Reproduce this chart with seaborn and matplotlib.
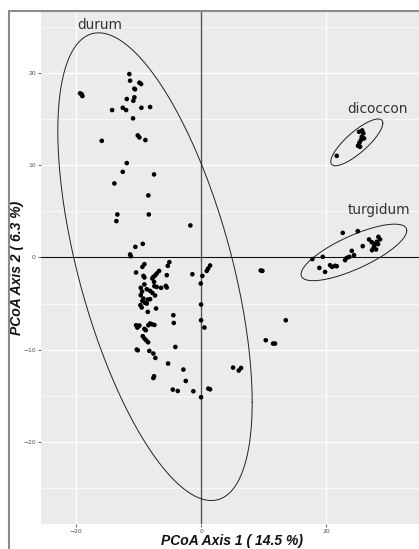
import numpy as np
import pandas as pd
import matplotlib
matplotlib.use("Agg")
import matplotlib.pyplot as plt
import seaborn as sns
from matplotlib.lines import Line2D

# puntos (PCoA)
durum_x = [-11.44, -11.32, -9.84, -9.57, -10.64, -10.53, -10.64, -10.80, -11.85, -19.03,
           -18.93, -19.30, -14.19, -12.49, -11.96, -9.52, -8.13, -10.85, -15.84, -10.10,
           -9.84, -8.88, -11.85, -12.49, -7.50, -13.83, -8.41, -13.35, -13.51, -8.34,
           -1.71, -10.48, -9.30, -11.32, -11.21, -9.04, -9.36, -5.06, -5.31, -10.37,
           -6.70, -7.07, -7.34, -7.61, -7.77, -7.50, -9.20, -9.04, -5.47, -1.39,
           0.21, 1.44, 1.12, 0.91, -0.05, -9.04, -9.62, -9.41, -8.66, -8.13,
           -7.77, -7.45, -7.07, -6.38, -5.63, -5.47, -9.62, -9.20, -9.36, -8.93,
           -8.50, -8.13, -7.34, -9.68, -9.46, -8.66, -8.50, -7.18, -4.42, -4.35,
           0.0, 0.0, 0.53, -10.37, -10.00, -10.16, -9.84, -9.04, -8.82, -8.13,
           -7.86, -7.45, -8.41, -9.30, -9.04, -8.77, -8.45, -10.26, -10.10, -8.25,
           -7.61, -7.29, -4.10, -5.26, -2.82, -7.50, -7.61, -2.44, -4.51, -3.72,
           -1.23, 0.0, 1.16, 1.44, 9.52, 9.78, 13.51, 10.32, 11.48, 11.80,
           5.10, 6.01, 6.38]
durum_y = [19.92, 19.20, 18.98, 18.84, 18.33, 18.26, 17.39, 17.02, 17.21, 17.72,
           17.53, 17.83, 16.01, 16.26, 16.01, 16.26, 16.34, 15.11, 12.67, 13.26,
           13.04, 12.75, 10.25, 9.30, 9.02, 8.04, 6.74, 4.67, 3.95, 4.67,
           3.48, 1.15, 1.48, 0.33, 0.14, -0.73, -1.02, -0.51, -0.91, -1.63,
           -1.46, -1.74, -1.96, -2.11, -2.28, -2.65, -2.00, -2.17, -1.92, -1.82,
           -2.00, -0.87, -1.20, -1.46, -2.83, -2.93, -3.30, -3.70, -3.45, -3.63,
           -3.85, -3.12, -3.20, -3.30, -3.09, -3.26, -4.10, -4.46, -4.72, -4.93,
           -4.57, -4.53, -4.13, -5.18, -5.43, -5.00, -5.91, -5.54, -6.27, -7.11,
           -5.11, -6.82, -7.61, -7.36, -7.47, -7.61, -7.39, -7.76, -7.90, -7.17,
           -7.25, -7.33, -7.36, -8.55, -8.80, -8.99, -9.21, -10.00, -10.08, -10.15,
           -10.43, -10.91, -9.72, -11.52, -12.17, -12.90, -13.09, -13.41, -14.35, -14.50,
           -14.53, -15.18, -14.24, -14.32, -1.41, -1.46, -6.82, -8.99, -9.35, -9.35,
           -11.96, -12.28, -12.00]

dicoccon_x = [21.64, 25.20, 25.89, 25.63, 26.00, 25.25, 25.04, 25.36, 25.50, 25.70]
dicoccon_y = [11.04, 13.65, 13.48, 13.11, 12.93, 12.46, 12.13, 12.02, 12.75, 13.80]

turgidum_x = [22.60, 24.99, 17.75, 19.41, 18.87, 19.78, 20.57, 20.89, 21.37, 21.64,
              22.97, 23.24, 23.65, 24.04, 24.40, 25.79, 26.79, 27.22, 27.59, 27.91,
              28.28, 28.55, 28.02, 27.48, 27.75, 28.23, 27.27]
turgidum_y = [2.67, 2.86, -0.18, 0.07, -1.13, -1.57, -0.84, -1.02, -0.91, -0.95,
              -0.29, -0.04, 0.07, 0.72, 0.25, 1.23, 1.96, 1.66, 1.23, 0.87,
              2.24, 1.96, 1.70, 0.98, 1.45, 1.45, 0.79]

# elipses (centro, semirango x/y, correlacion) y etiquetas
grupos = ["durum", "dicoccon", "turgidum"]
elipse_cx = [-7.35, 24.84, 24.38]
elipse_cy = [-1.0, 12.5, 0.55]
elipse_ax = [15.5, 4.15, 8.43]
elipse_ay = [25.4, 2.54, 3.07]
elipse_rho = [-0.58, 0.82, 0.77]
etiqueta_x = [-16.1, 28.2, 28.4]
etiqueta_y = [25.2, 16.1, 5.2]

df = pd.concat([
    pd.DataFrame({"x": durum_x, "y": durum_y, "grupo": "durum"}),
    pd.DataFrame({"x": dicoccon_x, "y": dicoccon_y, "grupo": "dicoccon"}),
    pd.DataFrame({"x": turgidum_x, "y": turgidum_y, "grupo": "turgidum"}),
], ignore_index=True)

sns.set_theme(style="darkgrid", rc={
    "axes.facecolor": "#EBEBEB",
    "grid.color": "white",
    "axes.edgecolor": "#EBEBEB",
})
plt.rcParams["font.family"] = ["DejaVu Sans"]

fig = plt.figure(figsize=(4.19, 5.49), dpi=100)
ax = fig.add_axes([40.7 / 419, 1 - 524.3 / 549, 382.3 / 419, 512.3 / 549])

ax.set_xlim(-25.58, 35.4)
ax.set_ylim(-28.98, 26.66)
ax.set_xticks([-20, 0, 20])
ax.set_yticks([-20, -10, 0, 10, 20])
ax.set_yticks([-25, -15, -5, 5, 15, 25], minor=True)
ax.grid(which="major", color="white", lw=1.0)
ax.grid(which="minor", axis="y", color="white", lw=0.5)
ax.tick_params(which="major", length=2, width=0.5, color="#333333",
               labelsize=4.3, labelcolor="#4D4D4D", pad=1.5, left=True, bottom=True)
ax.tick_params(which="minor", length=0)
for s in ax.spines.values():
    s.set_visible(False)

ax.axhline(0, color="#111111", lw=0.8, zorder=1.5)
ax.axvline(0, color="#555555", lw=1.0, zorder=1.5)

sns.scatterplot(data=df, x="x", y="y", hue="grupo",
                palette={"durum": "black", "dicoccon": "black", "turgidum": "black"},
                s=11, linewidth=0, legend=False, ax=ax, zorder=3)

t = np.linspace(0, 2 * np.pi, 300)
for i, g in enumerate(grupos):
    r = elipse_rho[i]
    ex = elipse_cx[i] + elipse_ax[i] * np.cos(t)
    ey = elipse_cy[i] + elipse_ay[i] * (r * np.cos(t) + np.sqrt(1 - r ** 2) * np.sin(t))
    ax.plot(ex, ey, color="#222222", lw=0.7, zorder=2.5)
    ax.text(etiqueta_x[i], etiqueta_y[i], g, ha="center", va="center",
            fontsize=9.8, color="#333333")

ax.set_xlabel("PCoA Axis 1 ( 14.5 %)", family=["Liberation Sans"], fontsize=10,
              fontweight="bold", fontstyle="italic", va="center", color="#111111")
ax.set_ylabel("PCoA Axis 2 ( 6.3 %)", family=["Liberation Sans"], fontsize=10,
              fontweight="bold", fontstyle="italic", va="center", color="#111111")
ax.xaxis.set_label_coords((232 - 40.7) / 382.3, (524.3 - 541) / 512.3)
ax.yaxis.set_label_coords((17 - 40.7) / 382.3, 0.5)

# marco de la figura (izquierda y arriba)
fig.add_artist(Line2D([9 / 419, 9 / 419], [0, 1 - 10.5 / 549], color="#8C8C8C", lw=1.5))
fig.add_artist(Line2D([9 / 419, 1], [1 - 10.5 / 549, 1 - 10.5 / 549], color="#8C8C8C", lw=1.5))

fig.savefig("out.png", dpi=100)
